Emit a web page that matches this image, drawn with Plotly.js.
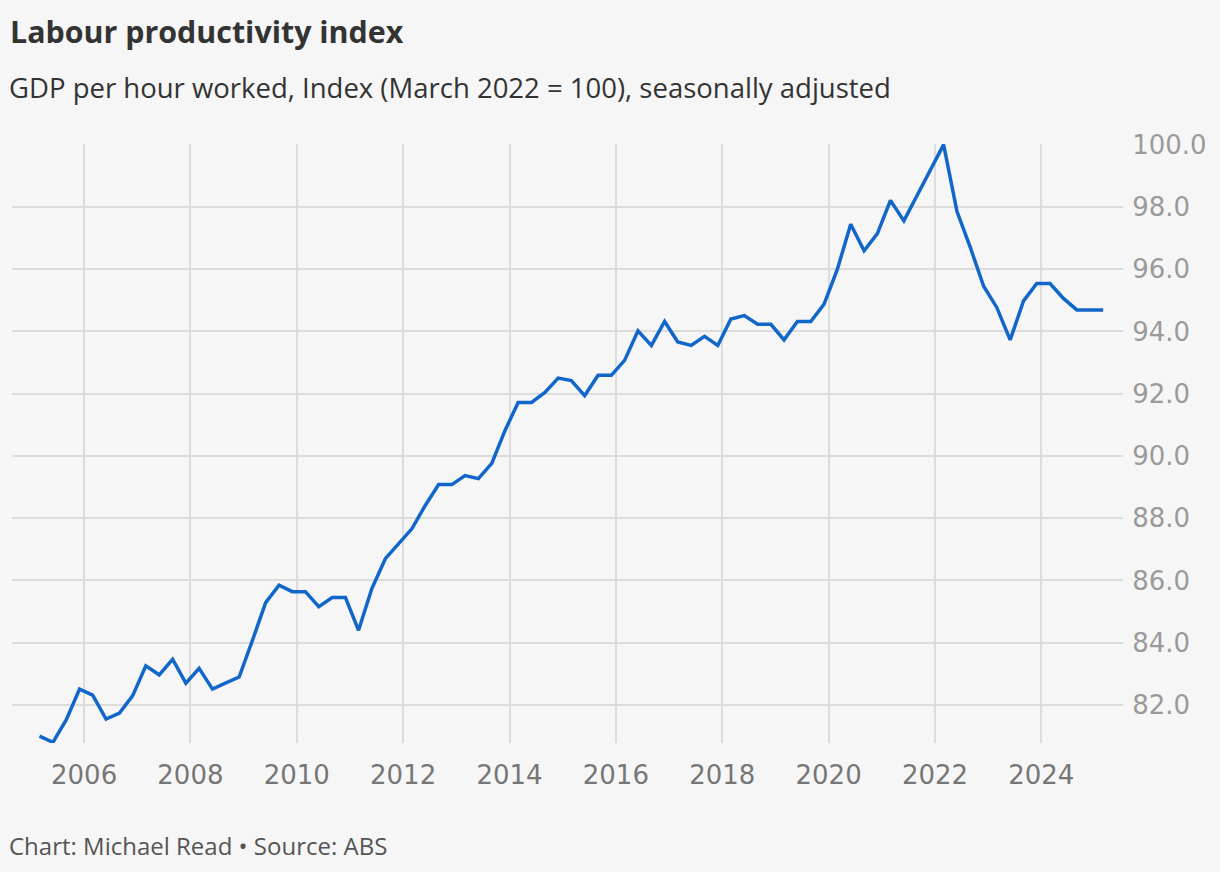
<!DOCTYPE html>
<html>
<head>
<meta charset="utf-8">
<script src="https://cdn.plot.ly/plotly-3.0.1.min.js"></script>
<style>
html,body{margin:0;padding:0;background:#f6f6f6;}
#chart{width:1220px;height:872px;}
</style>
</head>
<body>
<div id="chart"></div>
<script>
// Quarterly dates, March 2005 to March 2025
const years = [2005,2006,2007,2008,2009,2010,2011,2012,2013,2014,2015,2016,2017,2018,2019,2020,2021,2022,2023,2024,2025];
const quarterMonths = ['03','06','09','12'];

// GDP per hour worked, Index (March 2022 = 100)
const productivity = [
  81.0, 80.8, 81.53, 82.51,
  82.32, 81.55, 81.74, 82.30,
  83.26, 82.97, 83.47, 82.70,
  83.18, 82.51, 82.71, 82.90,
  84.06, 85.29, 85.85, 85.64,
  85.64, 85.16, 85.45, 85.45,
  84.40, 85.75, 86.70, 87.18,
  87.66, 88.41, 89.08, 89.08,
  89.37, 89.27, 89.76, 90.82,
  91.72, 91.72, 92.04, 92.50,
  92.42, 91.94, 92.59, 92.59,
  93.07, 94.02, 93.55, 94.32,
  93.66, 93.55, 93.84, 93.55,
  94.40, 94.51, 94.23, 94.23,
  93.73, 94.32, 94.32, 94.88,
  95.99, 97.44, 96.59, 97.14,
  98.21, 97.55, 98.37, 99.20,
  100.0, 97.85, 96.69, 95.45,
  94.77, 93.73, 94.98, 95.54,
  95.54, 95.06, 94.69, 94.69,
  94.69
];

const dates = [];
for (const y of years) {
  for (const m of quarterMonths) {
    if (dates.length < productivity.length) dates.push(y + '-' + m + '-01');
  }
}

const trace = {
  x: dates,
  y: productivity,
  type: 'scatter',
  mode: 'lines',
  line: {color: '#1167c9', width: 3.5},
  hoverinfo: 'x+y'
};

const layout = {
  width: 1220,
  height: 872,
  paper_bgcolor: '#f6f6f6',
  plot_bgcolor: '#f6f6f6',
  margin: {l: 12, r: 97, t: 144, b: 129},
  showlegend: false,
  title: {
    text: '<b>Labour productivity index</b>',
    x: 10/1220, xanchor: 'left', xref: 'container',
    y: 1 - 32/872, yanchor: 'middle', yref: 'container',
    font: {family: '"Open Sans", sans-serif', size: 30.4, color: '#333333'}
  },
  xaxis: {
    type: 'date',
    range: ['2004-08-24', '2025-07-15'],
    tick0: '2006-01-01',
    dtick: 'M24',
    tickformat: '%Y',
    showgrid: true,
    gridcolor: '#dcdcdc',
    gridwidth: 1.5,
    zeroline: false,
    showline: false,
    ticks: 'outside',
    ticklen: 9,
    tickcolor: 'rgba(0,0,0,0)',
    tickfont: {family: '"DejaVu Sans", sans-serif', size: 26, color: '#767676'},
    fixedrange: true
  },
  yaxis: {
    side: 'right',
    range: [80.78, 100.02],
    tick0: 0,
    dtick: 2,
    tickformat: '.1f',
    showgrid: true,
    gridcolor: '#dcdcdc',
    gridwidth: 1.5,
    zeroline: false,
    showline: false,
    ticks: 'outside',
    ticklen: 3,
    tickcolor: 'rgba(0,0,0,0)',
    tickfont: {family: '"DejaVu Sans", sans-serif', size: 26, color: '#9a9a9a'},
    fixedrange: true
  },
  annotations: [
    {
      text: 'GDP per hour worked, Index (March 2022 = 100), seasonally adjusted',
      xref: 'paper', yref: 'paper',
      x: (7 - 12) / 1111, xanchor: 'left',
      y: (743 - 88) / 599, yanchor: 'middle',
      showarrow: false,
      font: {family: '"Open Sans", sans-serif', size: 27.5, color: '#333333'}
    },
    {
      text: 'Chart: Michael Read • Source: ABS',
      xref: 'paper', yref: 'paper',
      x: (7 - 12) / 1111, xanchor: 'left',
      y: (743 - 845) / 599, yanchor: 'middle',
      showarrow: false,
      font: {family: '"Open Sans", sans-serif', size: 24, color: '#555555'}
    }
  ]
};

Plotly.newPlot('chart', [trace], layout, {displayModeBar: false, responsive: false});
</script>
</body>
</html>
